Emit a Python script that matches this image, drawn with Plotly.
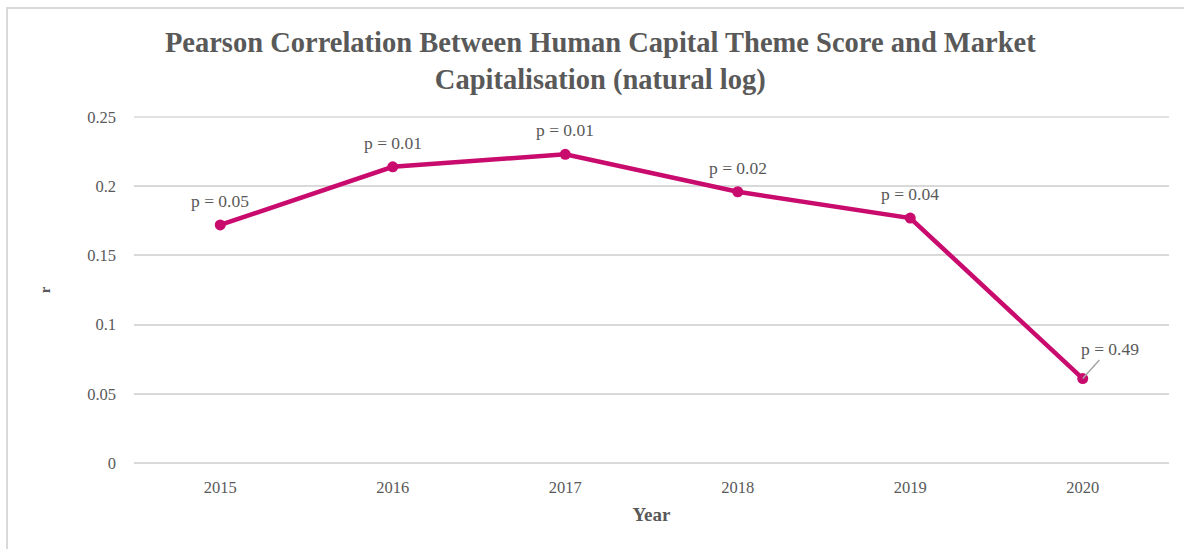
import plotly.graph_objects as go

years = [2015, 2016, 2017, 2018, 2019, 2020]
r_values = [0.172, 0.214, 0.223, 0.196, 0.177, 0.061]
p_labels = ["p = 0.05", "p = 0.01", "p = 0.01", "p = 0.02", "p = 0.04", "p = 0.49"]
y_ticks = [0, 0.05, 0.1, 0.15, 0.2, 0.25]
y_tick_text = ["0", "0.05", "0.1", "0.15", "0.2", "0.25"]

LINE_COLOR = "#C90B6E"
TEXT_COLOR = "#595959"
GRID_COLOR = "#D9D9D9"
FONT = "Liberation Serif"

fig = go.Figure()
fig.add_trace(go.Scatter(
    x=years, y=r_values, mode="lines+markers",
    line=dict(color=LINE_COLOR, width=4.5),
    marker=dict(color=LINE_COLOR, size=11),
    hoverinfo="x+y", showlegend=False,
))

# p-value labels above each point; the last one is offset with a leader line
for i, (yr, val, lab) in enumerate(zip(years, r_values, p_labels)):
    last = i == len(years) - 1
    fig.add_annotation(
        x=yr, y=val, text=lab, showarrow=last,
        arrowhead=0, arrowcolor="#A6A6A6", arrowwidth=1.5,
        ax=27 if last else 0, ay=-30 if last else 0,
        xanchor="center", yanchor="middle" if last else "bottom",
        yshift=0 if last else 12,
        font=dict(family=FONT, size=17.5, color=TEXT_COLOR),
    )

fig.update_layout(
    width=1184, height=549,
    margin=dict(l=134, r=15, t=117, b=86),
    paper_bgcolor="white", plot_bgcolor="white",
    title=dict(
        text="<b>Pearson Correlation Between Human Capital Theme Score and Market<br>Capitalisation (natural log)</b>",
        x=0.507, xanchor="center", y=0.905, yanchor="top",
        font=dict(family=FONT, size=28.5, color=TEXT_COLOR),
    ),
    xaxis=dict(
        range=[2014.5, 2020.5], tickvals=years, ticktext=[str(y) for y in years],
        showgrid=False, showline=False, zeroline=False,
        ticks="", ticklabelstandoff=12,
        tickfont=dict(family=FONT, size=16.5, color=TEXT_COLOR),
        title=dict(text="<b>Year</b>", standoff=12,
                   font=dict(family=FONT, size=19, color=TEXT_COLOR)),
    ),
    yaxis=dict(
        range=[0, 0.25], tickvals=y_ticks, ticktext=y_tick_text,
        showgrid=True, gridcolor=GRID_COLOR, gridwidth=1.5,
        zeroline=True, zerolinecolor=GRID_COLOR, zerolinewidth=1.5,
        showline=False, ticks="", ticklabelstandoff=17,
        tickfont=dict(family=FONT, size=16.5, color=TEXT_COLOR),
        title=dict(text="<b>r</b>", standoff=32,
                   font=dict(family=FONT, size=15, color=TEXT_COLOR)),
    ),
    shapes=[
        dict(type="line", xref="paper", yref="paper",
             x0=0, x1=1, y0=1, y1=1,
             line=dict(color=GRID_COLOR, width=1.5), layer="below"),
        dict(type="rect", xref="paper", yref="paper",
             x0=-0.1227, x1=1.2, y0=-0.5, y1=1.315,
             line=dict(color=GRID_COLOR, width=2), fillcolor="rgba(0,0,0,0)",
             layer="below"),
    ],
)

fig.write_html("out.html")
